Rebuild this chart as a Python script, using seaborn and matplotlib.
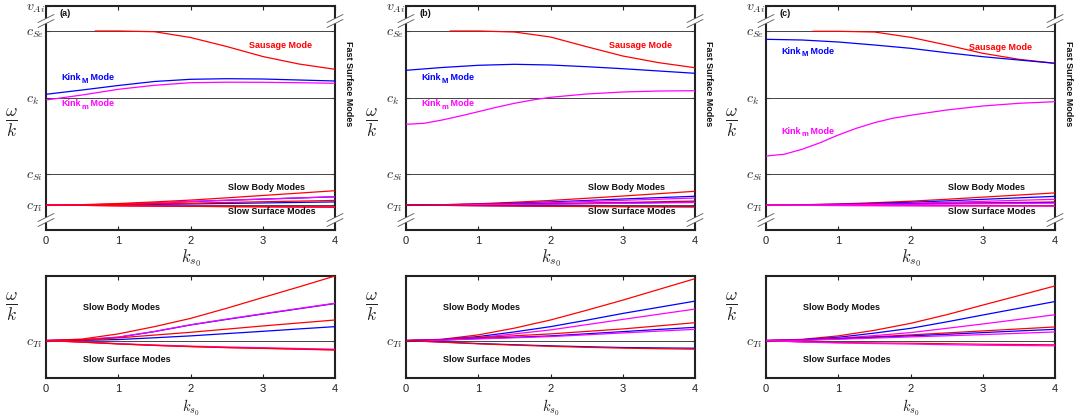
import matplotlib
matplotlib.use("Agg")
import matplotlib.pyplot as plt
import seaborn as sns
import numpy as np

# ---------------- data ----------------
K = [0, 0.5, 1, 1.5, 2, 2.5, 3, 3.5, 4]
K_FINE = [0, 0.25, 0.5, 0.75, 1, 1.25, 1.5, 1.75, 2, 2.5, 3, 3.5, 4]

# schematic phase-speed levels (top panels)
LEVEL_NAMES = [r"$c_{Ti}$", r"$c_{Si}$", r"$c_k$", r"$c_{Se}$", r"$v_{Ai}$"]
LEVELS = [25, 56, 132, 199, 224]
BREAKS = [10, 209]
SLOW_SCALE = 0.22   # compression of the slow band in the top panels

# fast modes
SAUS_K_A = [0.68, 1, 1.5, 2, 2.5, 3, 3.5, 4]
SAUS_A = [199, 199, 198.3, 192.5, 183.5, 173.5, 166, 160.7]
KINKM_A = [135.7, 140, 144.5, 148.5, 150.7, 151.3, 151, 150, 149]
KINKm_A = [130, 135, 140.7, 144.7, 147.3, 147.8, 147.7, 147.3, 146.7]

SAUS_K_B = [0.61, 1, 1.5, 2, 2.5, 3, 3.5, 4]
SAUS_B = [199, 199, 198, 193, 183.3, 174, 167.3, 162.3]
KINKM_B = [159.7, 162.5, 164.7, 165.7, 165, 163.3, 161.3, 159, 156.7]
KINKm_B = [105.7, 106.7, 110, 114, 118.3, 122.7, 126.7, 130, 132.7, 136, 138, 139, 139.3]

SAUS_K_C = [0.65, 1, 1.5, 2, 2.5, 3, 3.5, 4]
SAUS_C = [198.7, 198.7, 198, 192.7, 185, 176.7, 170.7, 166.7]
KINKM_C = [190.7, 190, 188, 185, 181.7, 177.3, 173.3, 170, 166.7]
KINKm_C = [74, 75.7, 80.7, 87.3, 95, 101.7, 107.3, 111.7, 114.7, 120, 124, 126.7, 128.3]

# slow modes: offsets from c_Ti (bottom-panel units)
SLOW_COLORS_A = ["blue", "magenta", "red", "blue", "red", "red", "magenta", "red"]
SLOW_A = [
    [0, 0.8, 3.3, 9, 15.7, 21.3, 26.7, 32, 37.3],
    [0, 0.9, 3.5, 9.2, 15.9, 21.6, 27, 32.3, 37.6],
    [0, 1.5, 6.7, 14, 22.3, 32.5, 43.3, 54, 65],
    [0, 0.2, 1, 2.8, 4.7, 7, 9.3, 11.7, 14],
    [0, 0.5, 2.7, 5.5, 8.3, 11.5, 14.7, 17.7, 20.7],
    [0, -1.5, -3.3, -4.8, -6, -7, -7.7, -8.5, -9.3],
    [0, -1.4, -3.1, -4.5, -5.6, -6.5, -7.2, -8, -8.7],
    [0, -1.6, -3.4, -4.9, -6.1, -7.1, -7.9, -8.7, -9.5],
]
SLOW_COLORS_B = ["red", "blue", "magenta", "red", "blue", "magenta", "blue", "red"]
SLOW_B = [
    [0, 1.3, 5.7, 12.5, 20.7, 30.5, 40.7, 51.5, 62.3],
    [0, 1, 4, 8.7, 14, 20.5, 27.3, 33.5, 39.7],
    [0, 0.8, 3, 6.7, 10.7, 16, 21.3, 26.5, 31.7],
    [0, 0.7, 3, 4.8, 6.7, 9.2, 11.7, 14.8, 18],
    [0, 0.5, 2, 3.3, 4.7, 6.8, 9, 11.2, 13.3],
    [0, 0.4, 1.7, 2.8, 4, 5.8, 7.7, 9.5, 11.3],
    [0, -1.5, -3, -4.2, -5.3, -6.2, -7, -7.4, -7.7],
    [0, -1.6, -3.3, -4.6, -5.8, -6.8, -7.6, -8.2, -8.7],
]
SLOW_COLORS_C = ["red", "blue", "magenta", "red", "blue", "magenta", "red", "magenta"]
SLOW_C = [
    [0, 1.2, 4.7, 10.3, 17.3, 26, 35.7, 45.3, 55],
    [0, 0.9, 3.3, 7.5, 12.3, 18.8, 25.7, 32.5, 39.3],
    [0, 0.6, 2.3, 5, 8, 12.3, 16.7, 21.3, 26],
    [0, 0.5, 2, 3.8, 5.7, 7.7, 9.7, 11.7, 13.7],
    [0, 0.4, 1.7, 3.2, 4.7, 6.3, 8, 9.7, 11.3],
    [0, 0.3, 1.3, 2.5, 3.7, 4.8, 6, 7.3, 8.7],
    [0, -1.3, -2, -2.4, -2.7, -3.2, -3.7, -4, -4.3],
    [0, -1.5, -2.4, -3, -3.5, -4.2, -4.7, -5, -5.3],
]

PANEL_LABELS = ["(a)", "(b)", "(c)"]
KINKM_TEXT_Y = [152, 152, 179]
KINKm_TEXT_Y = [126, 126, 99]
SAUS_TEXT_Y = [185, 185, 183]
XTICKS = [0, 1, 2, 3, 4]

# ---------------- style ----------------
sns.set_theme(style="white")
plt.rcParams["font.family"] = ["Liberation Sans", "DejaVu Sans"]
plt.rcParams["mathtext.fontset"] = "cm"

fig = plt.figure(figsize=(10.81, 4.18), dpi=100)
W, H = 1081, 418
lefts = [46, 406, 766]
RED, BLUE, MAG = "#ff0000", "#0000ff", "#ff00ff"
cmap = {"red": RED, "blue": BLUE, "magenta": MAG}
LW = 0.9
TXT = 6.5


def style_axis(ax, xl_size):
    for s in ax.spines.values():
        s.set_linewidth(1.5)
        s.set_color("#222222")
        s.set_visible(True)
    ax.set_xlim(0, 4)
    ax.set_xticks(XTICKS)
    ax.set_xticklabels([str(t) for t in XTICKS], fontsize=8)
    ax.tick_params(axis="both", direction="in", length=3, width=0.8,
                   top=True, right=True, left=True, bottom=True, colors="#222222")
    ax.tick_params(axis="x", pad=4, labelcolor="#222222")
    ax.tick_params(axis="y", pad=14.5, labelsize=10, labelcolor="#222222")
    for lab in ax.get_yticklabels():
        lab.set_horizontalalignment("left")
    ax.set_xlabel(r"$k_{s_0}$", fontsize=xl_size, color="#222222")
    ax.grid(False)


def kink_label(ax, x, y, sub, color):
    t1 = ax.text(x, y, "Kink", color=color, fontsize=TXT, fontweight="bold",
                 ha="left", va="center")
    t2 = ax.annotate(sub, xy=(1.0, 0.1), xycoords=t1, xytext=(0.4, 0),
                     textcoords="offset points", color=color, fontsize=5.5,
                     fontweight="bold", ha="left", va="center")
    ax.annotate(" Mode", xy=(1.0, 0.5), xycoords=(t2, t1), xytext=(0, 0),
                textcoords="offset points", color=color, fontsize=TXT,
                fontweight="bold", ha="left", va="center")


fast = [(SAUS_K_A, SAUS_A, K, KINKM_A, K, KINKm_A),
        (SAUS_K_B, SAUS_B, K, KINKM_B, K_FINE, KINKm_B),
        (SAUS_K_C, SAUS_C, K, KINKM_C, K_FINE, KINKm_C)]
slows = [(SLOW_A, SLOW_COLORS_A), (SLOW_B, SLOW_COLORS_B), (SLOW_C, SLOW_COLORS_C)]

for i in range(3):
    L = lefts[i]
    # ---------- top axis ----------
    ax = fig.add_axes([L / W, (H - 230) / H, 289 / W, 224 / H])
    ax.set_ylim(0, 224)
    for lv in LEVELS[:-1]:
        ax.axhline(lv, color="#444444", lw=0.7, zorder=1)
    sk, saus, kmk, km, kmmk, kmm = fast[i]
    slow, scol = slows[i]
    for vals, c in zip(slow, scol):
        sns.lineplot(x=K, y=[LEVELS[0] + SLOW_SCALE * v for v in vals], ax=ax,
                     color=cmap[c], lw=LW, zorder=3)
    sns.lineplot(x=sk, y=saus, ax=ax, color=RED, lw=LW, zorder=3)
    sns.lineplot(x=kmk, y=km, ax=ax, color=BLUE, lw=LW, zorder=3)
    sns.lineplot(x=kmmk, y=kmm, ax=ax, color=MAG, lw=LW, zorder=3)
    ax.set_yticks(LEVELS)
    ax.set_yticklabels(LEVEL_NAMES)
    style_axis(ax, 12)
    ax.set_ylabel(r"$\frac{\omega}{k}$", fontsize=18, rotation=0,
                  ha="center", va="center", color="#222222")
    ax.yaxis.set_label_coords(-0.118, 0.478)
    ax.xaxis.set_label_coords(0.5, -0.075)
    # break marks
    dx = 8 * 4 / 289
    for yb in BREAKS:
        for xs in (0, 4):
            poly = plt.Polygon([[xs - dx, yb - 2.5 - 4], [xs + dx, yb - 2.5 + 4],
                                [xs + dx, yb + 2.5 + 4], [xs - dx, yb + 2.5 - 4]],
                               closed=True, facecolor="white", edgecolor="none",
                               clip_on=False, zorder=10)
            ax.add_patch(poly)
            for off in (-2.5, 2.5):
                ax.plot([xs - dx, xs + dx], [yb + off - 4, yb + off + 4],
                        color="#555555", lw=0.6, clip_on=False, zorder=11)
    ax.text(0.19, 216, PANEL_LABELS[i], fontsize=TXT, fontweight="bold",
            ha="left", va="center", color="#111111")
    ax.text(2.81, SAUS_TEXT_Y[i], "Sausage Mode", color=RED, fontsize=TXT,
            fontweight="bold", ha="left", va="center")
    kink_label(ax, 0.21, KINKM_TEXT_Y[i], "M", BLUE)
    kink_label(ax, 0.21, KINKm_TEXT_Y[i], "m", MAG)
    ax.text(2.52, 43, "Slow Body Modes", fontsize=TXT, fontweight="bold",
            ha="left", va="center", color="#111111")
    ax.text(2.52, 18, "Slow Surface Modes", fontsize=TXT, fontweight="bold",
            ha="left", va="center", color="#111111")
    ax.text(4.19, 146, "Fast Surface Modes", fontsize=TXT, fontweight="bold",
            rotation=270, ha="center", va="center", color="#111111", clip_on=False)

    # ---------- bottom axis ----------
    bx = fig.add_axes([L / W, (H - 378) / H, 289 / W, 102 / H])
    bx.set_ylim(-37.7, 65)
    bx.axhline(0, color="#444444", lw=0.7, zorder=1)
    for vals, c in zip(slow, scol):
        sns.lineplot(x=K, y=vals, ax=bx, color=cmap[c], lw=LW, zorder=3)
    bx.set_yticks([0])
    bx.set_yticklabels([LEVEL_NAMES[0]])
    style_axis(bx, 10.5)
    bx.set_ylabel(r"$\frac{\omega}{k}$", fontsize=18, rotation=0,
                  ha="center", va="center", color="#222222")
    bx.yaxis.set_label_coords(-0.118, 0.696)
    bx.xaxis.set_label_coords(0.5, -0.19)
    bx.text(0.51, 33, "Slow Body Modes", fontsize=TXT, fontweight="bold",
            ha="left", va="center", color="#111111")
    bx.text(0.51, -19.4, "Slow Surface Modes", fontsize=TXT, fontweight="bold",
            ha="left", va="center", color="#111111")

fig.savefig("out.png", dpi=100)
